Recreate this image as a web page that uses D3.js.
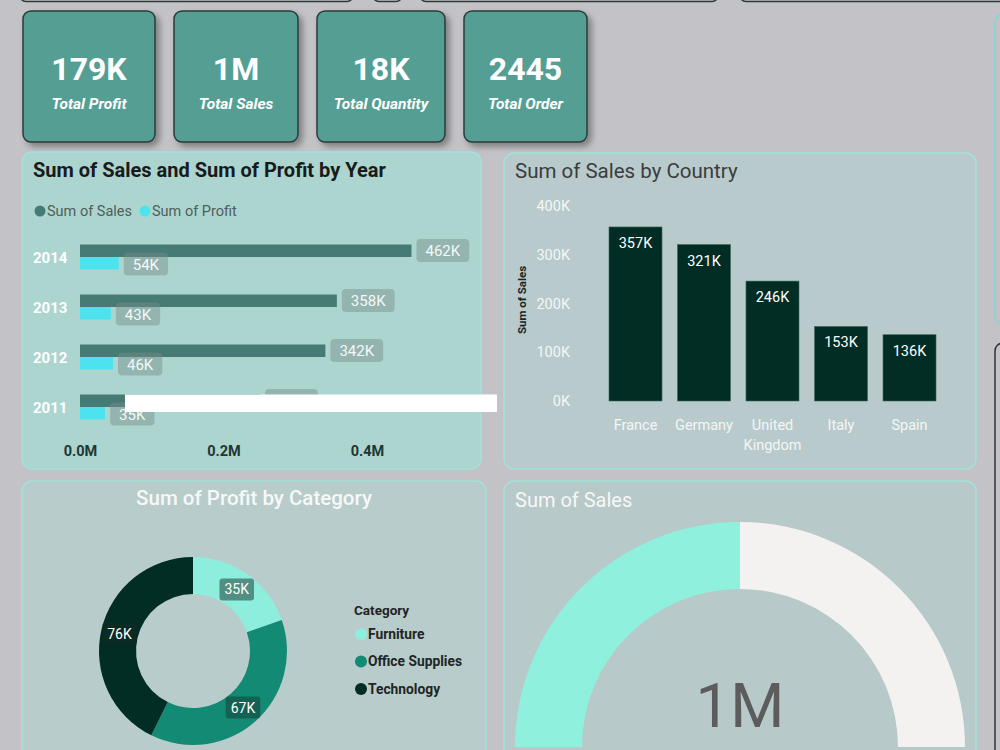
<!DOCTYPE html>
<html>
<head>
<meta charset="utf-8">
<script src="https://cdn.jsdelivr.net/npm/d3@7"></script>
<style>
  body { margin: 0; background: #c3c2c6; overflow: hidden; }
  svg { display: block; font-family: Roboto, "Noto Sans", sans-serif; }
</style>
</head>
<body>
<div id="my_dataviz"></div>
<script>
// data
var kpiValues = ["179K", "1M", "18K", "2445"];
var kpiLabels = ["Total Profit", "Total Sales", "Total Quantity", "Total Order"];

var years = ["2014", "2013", "2012", "2011"];
var yearSales = [462, 358, 342, 251];   // K
var yearProfit = [54, 43, 46, 35];      // K
var yearTicks = [0, 0.2, 0.4];          // M

var countries = ["France", "Germany", "United Kingdom", "Italy", "Spain"];
var countrySales = [357, 321, 246, 153, 136]; // K
var countryTicks = [0, 100, 200, 300, 400];

var categories = ["Furniture", "Office Supplies", "Technology"];
var categoryProfit = [35, 67, 76]; // K
var categoryColors = ["#8eeedd", "#138a74", "#012d25"];

var gaugeValue = 1;  // M
var gaugeMax = 2;

var svg = d3.select("#my_dataviz")
    .append("svg")
    .attr("width", 1000)
    .attr("height", 750);

var defs = svg.append("defs");
var shadow = defs.append("filter").attr("id", "shadow")
    .attr("x", "-20%").attr("y", "-20%").attr("width", "150%").attr("height", "150%");
shadow.append("feDropShadow")
    .attr("dx", 4).attr("dy", 4).attr("stdDeviation", 3)
    .attr("flood-color", "#000").attr("flood-opacity", 0.35);

// bits of other visuals cut off at the page edges
[[20, 353], [373, 402], [420, 718], [740, 1010]].forEach(function (d) {
    svg.append("rect")
        .attr("x", d[0]).attr("y", -30).attr("width", d[1] - d[0]).attr("height", 31.5)
        .attr("rx", 6).attr("fill", "#c3c2c6")
        .attr("stroke", "#2e3a38").attr("stroke-width", 1.5);
});
svg.append("rect")
    .attr("x", 995).attr("y", 14).attr("width", 40).attr("height", 309)
    .attr("rx", 8).attr("fill", "none")
    .attr("stroke", "#7fd7dc").attr("stroke-width", 1.5);
svg.append("rect")
    .attr("x", 995).attr("y", 343).attr("width", 40).attr("height", 450)
    .attr("rx", 8).attr("fill", "none")
    .attr("stroke", "#333").attr("stroke-width", 1.5);

// KPI cards
var cardX = [23, 174, 317, 464];
var cardW = [132, 124, 128, 123];
var cards = svg.selectAll(".card")
    .data(kpiValues)
    .enter()
    .append("g")
    .attr("class", "card")
    .attr("transform", function (d, i) { return "translate(" + cardX[i] + ",11)"; });
cards.append("rect")
    .attr("width", function (d, i) { return cardW[i]; })
    .attr("height", 131)
    .attr("rx", 8)
    .attr("fill", "#559e94")
    .attr("stroke", "#2c3b38")
    .attr("stroke-width", 1.5)
    .attr("filter", "url(#shadow)");
cards.append("text")
    .attr("x", function (d, i) { return cardW[i] / 2; })
    .attr("y", 69)
    .attr("text-anchor", "middle")
    .attr("fill", "#fff")
    .attr("font-size", 32)
    .attr("font-weight", 700)
    .text(function (d) { return d; });
cards.append("text")
    .attr("x", function (d, i) { return cardW[i] / 2; })
    .attr("y", 97.5)
    .attr("text-anchor", "middle")
    .attr("fill", "#fff")
    .attr("font-size", 15.5)
    .attr("font-weight", 700)
    .attr("font-style", "italic")
    .text(function (d, i) { return kpiLabels[i]; });

// panels
function panel(x, y, w, h, fill) {
    svg.append("rect")
        .attr("x", x).attr("y", y).attr("width", w).attr("height", h)
        .attr("rx", 10).attr("fill", fill)
        .attr("stroke", "#a2e2da").attr("stroke-width", 1.5);
}
panel(22, 152, 459, 317, "#acd5cf");
panel(504, 153, 472, 316, "#b8cacb");
panel(22, 481, 464, 300, "#b8cccb");
panel(504, 481, 472, 300, "#b8c9c9");

// ---------- Sum of Sales and Sum of Profit by Year ----------
svg.append("text")
    .attr("x", 33).attr("y", 177)
    .attr("fill", "#1a1a1a")
    .attr("font-size", 20).attr("font-weight", 700)
    .text("Sum of Sales and Sum of Profit by Year");

var legend1 = [["Sum of Sales", "#467a74", 40], ["Sum of Profit", "#4de3ee", 145]];
legend1.forEach(function (l) {
    svg.append("circle").attr("cx", l[2]).attr("cy", 211).attr("r", 5.5).attr("fill", l[1]);
    svg.append("text").attr("x", l[2] + 7).attr("y", 216)
        .attr("fill", "#4f5e5b").attr("font-size", 14.5).text(l[0]);
});

var x1 = d3.scaleLinear().domain([0, 0.5]).range([80, 438.75]);
var y1 = d3.scaleBand().domain(years).range([232, 432]);

var g1 = svg.append("g");
g1.selectAll(".sales")
    .data(years)
    .enter()
    .append("rect")
    .attr("x", x1(0))
    .attr("y", function (d) { return y1(d) + y1.bandwidth() / 2 - 12.5; })
    .attr("width", function (d, i) { return x1(yearSales[i] / 1000) - x1(0); })
    .attr("height", 12.5)
    .attr("fill", "#467a74");
g1.selectAll(".profit")
    .data(years)
    .enter()
    .append("rect")
    .attr("x", x1(0))
    .attr("y", function (d) { return y1(d) + y1.bandwidth() / 2; })
    .attr("width", function (d, i) { return x1(yearProfit[i] / 1000) - x1(0); })
    .attr("height", 12.5)
    .attr("fill", "#4de3ee");

function valueBox(g, x, cy, label, fill) {
    var t = g.append("text")
        .attr("y", cy + 5.5)
        .attr("fill", "#f4f8f7")
        .attr("font-size", 15)
        .text(label);
    var w = t.node().getComputedTextLength();
    g.insert("rect", function () { return t.node(); })
        .attr("x", x).attr("y", cy - 11.5)
        .attr("width", w + 18).attr("height", 23)
        .attr("rx", 4).attr("fill", fill);
    t.attr("x", x + 9);
}
years.forEach(function (d, i) {
    var c = y1(d) + y1.bandwidth() / 2;
    valueBox(g1, x1(yearSales[i] / 1000) + 5, c - 6.5, yearSales[i] + "K", "rgba(120,140,138,0.45)");
    valueBox(g1, x1(yearProfit[i] / 1000) + 5, c + 7, yearProfit[i] + "K", "rgba(120,140,138,0.45)");
});

g1.append("g")
    .call(d3.axisLeft(y1).tickSize(0).tickPadding(0))
    .call(function (g) { g.select(".domain").remove(); })
    .selectAll("text")
    .attr("x", 33)
    .attr("dy", "0.4em")
    .attr("text-anchor", "start")
    .attr("fill", "#fff")
    .attr("font-size", 15)
    .attr("font-weight", 700)
    .attr("font-family", "Roboto, sans-serif");

g1.append("g")
    .attr("transform", "translate(0,432)")
    .call(d3.axisBottom(x1).tickValues(yearTicks).tickSize(0).tickPadding(14)
        .tickFormat(function (d) { return d3.format(".1f")(d) + "M"; }))
    .call(function (g) { g.select(".domain").remove(); })
    .selectAll("text")
    .attr("fill", "#1f3733")
    .attr("font-size", 14.5)
    .attr("font-weight", 700)
    .attr("font-family", "Roboto, sans-serif");

// white strip covering the 2011 row in the reference
svg.append("rect")
    .attr("x", 125).attr("y", 394.5).attr("width", 372).attr("height", 17.5)
    .attr("fill", "#fff");

// ---------- Sum of Sales by Country ----------
svg.append("text")
    .attr("x", 515).attr("y", 178)
    .attr("fill", "#3a3d3d")
    .attr("font-size", 20.5)
    .text("Sum of Sales by Country");

var x2 = d3.scaleBand().domain(countries).range([601.25, 943.75])
    .paddingInner(0.226).paddingOuter(0.113);
var y2 = d3.scaleLinear().domain([0, 400]).range([401, 206]);

var g2 = svg.append("g");
g2.append("g")
    .attr("transform", "translate(578,0)")
    .call(d3.axisLeft(y2).tickValues(countryTicks).tickSize(0).tickPadding(8)
        .tickFormat(function (d) { return d + "K"; }))
    .call(function (g) { g.select(".domain").remove(); })
    .selectAll("text")
    .attr("fill", "#f4f6f6")
    .attr("font-size", 14.5)
    .attr("font-family", "Roboto, sans-serif");

svg.append("text")
    .attr("transform", "translate(526,300) rotate(-90)")
    .attr("text-anchor", "middle")
    .attr("fill", "#1c2423")
    .attr("font-size", 11.5)
    .attr("font-weight", 700)
    .text("Sum of Sales");

g2.selectAll(".cbar")
    .data(countries)
    .enter()
    .append("rect")
    .attr("x", function (d) { return x2(d); })
    .attr("y", function (d, i) { return y2(countrySales[i]); })
    .attr("width", x2.bandwidth())
    .attr("height", function (d, i) { return y2(0) - y2(countrySales[i]); })
    .attr("fill", "#022d25")
    .attr("stroke", "#3f6a62")
    .attr("stroke-width", 0.6);
g2.selectAll(".clabel")
    .data(countries)
    .enter()
    .append("text")
    .attr("x", function (d) { return x2(d) + x2.bandwidth() / 2; })
    .attr("y", function (d, i) { return y2(countrySales[i]) + 21; })
    .attr("text-anchor", "middle")
    .attr("fill", "#fff")
    .attr("font-size", 14.5)
    .text(function (d, i) { return countrySales[i] + "K"; });

g2.append("g")
    .attr("transform", "translate(0,401)")
    .call(d3.axisBottom(x2).tickSize(0).tickPadding(19))
    .call(function (g) { g.select(".domain").remove(); })
    .selectAll("text")
    .attr("fill", "#f4f6f6")
    .attr("font-size", 14.5)
    .attr("font-family", "Roboto, sans-serif")
    .each(function (d) {
        var words = d.split(" ");
        if (words.length > 1) {
            var t = d3.select(this).text(null);
            words.forEach(function (w, k) {
                t.append("tspan").attr("x", 0).attr("dy", k === 0 ? "0.71em" : "1.35em").text(w);
            });
            t.attr("dy", null);
        }
    });

// ---------- Sum of Profit by Category ----------
svg.append("text")
    .attr("x", 254).attr("y", 505)
    .attr("text-anchor", "middle")
    .attr("fill", "#f6f8f8")
    .attr("font-size", 20.5)
    .attr("font-weight", 500)
    .text("Sum of Profit by Category");

var pie = d3.pie().sort(null)(categoryProfit);
var arc = d3.arc().innerRadius(57).outerRadius(94);
var labelArc = d3.arc().innerRadius(75.5).outerRadius(75.5);
var g3 = svg.append("g").attr("transform", "translate(193,651)");
g3.selectAll(".slice")
    .data(pie)
    .enter()
    .append("path")
    .attr("d", arc)
    .attr("fill", function (d, i) { return categoryColors[i]; });
var boxFill = ["rgba(60,110,100,0.75)", "rgba(20,70,60,0.6)", "rgba(20,40,36,0.5)"];
pie.forEach(function (d, i) {
    var c = labelArc.centroid(d);
    var t = g3.append("text")
        .attr("x", c[0]).attr("y", c[1] + 5)
        .attr("text-anchor", "middle")
        .attr("fill", "#fff")
        .attr("font-size", 14)
        .text(categoryProfit[i] + "K");
    var w = t.node().getComputedTextLength();
    g3.insert("rect", function () { return t.node(); })
        .attr("x", c[0] - w / 2 - 5).attr("y", c[1] - 11)
        .attr("width", w + 10).attr("height", 22)
        .attr("rx", 3).attr("fill", boxFill[i]);
});

svg.append("text")
    .attr("x", 354).attr("y", 615)
    .attr("fill", "#1f2524")
    .attr("font-size", 13.5).attr("font-weight", 700)
    .text("Category");
categories.forEach(function (c, i) {
    var cy = 634 + i * 27.5;
    svg.append("circle").attr("cx", 361).attr("cy", cy).attr("r", 6).attr("fill", categoryColors[i]);
    svg.append("text").attr("x", 368).attr("y", cy + 4.5)
        .attr("fill", "#1f2524").attr("font-size", 13.8).attr("font-weight", 700)
        .text(c);
});

// ---------- Sum of Sales gauge ----------
svg.append("text")
    .attr("x", 515).attr("y", 507)
    .attr("fill", "#f6f8f8")
    .attr("font-size", 20)
    .text("Sum of Sales");

var angle = d3.scaleLinear().domain([0, gaugeMax]).range([-Math.PI / 2, Math.PI / 2]);
var gArc = d3.arc().innerRadius(158).outerRadius(225);
var g4 = svg.append("g").attr("transform", "translate(740,747)");
g4.append("path")
    .attr("d", gArc({ startAngle: angle(gaugeValue), endAngle: angle(gaugeMax) }))
    .attr("fill", "#f3f2f0");
g4.append("path")
    .attr("d", gArc({ startAngle: angle(0), endAngle: angle(gaugeValue) }))
    .attr("fill", "#8ff0de");
g4.append("text")
    .attr("x", 0).attr("y", -20)
    .attr("text-anchor", "middle")
    .attr("fill", "#5c5c5c")
    .attr("font-size", 62)
    .attr("font-weight", 400)
    .text(d3.format(".0f")(gaugeValue) + "M");
</script>
</body>
</html>
